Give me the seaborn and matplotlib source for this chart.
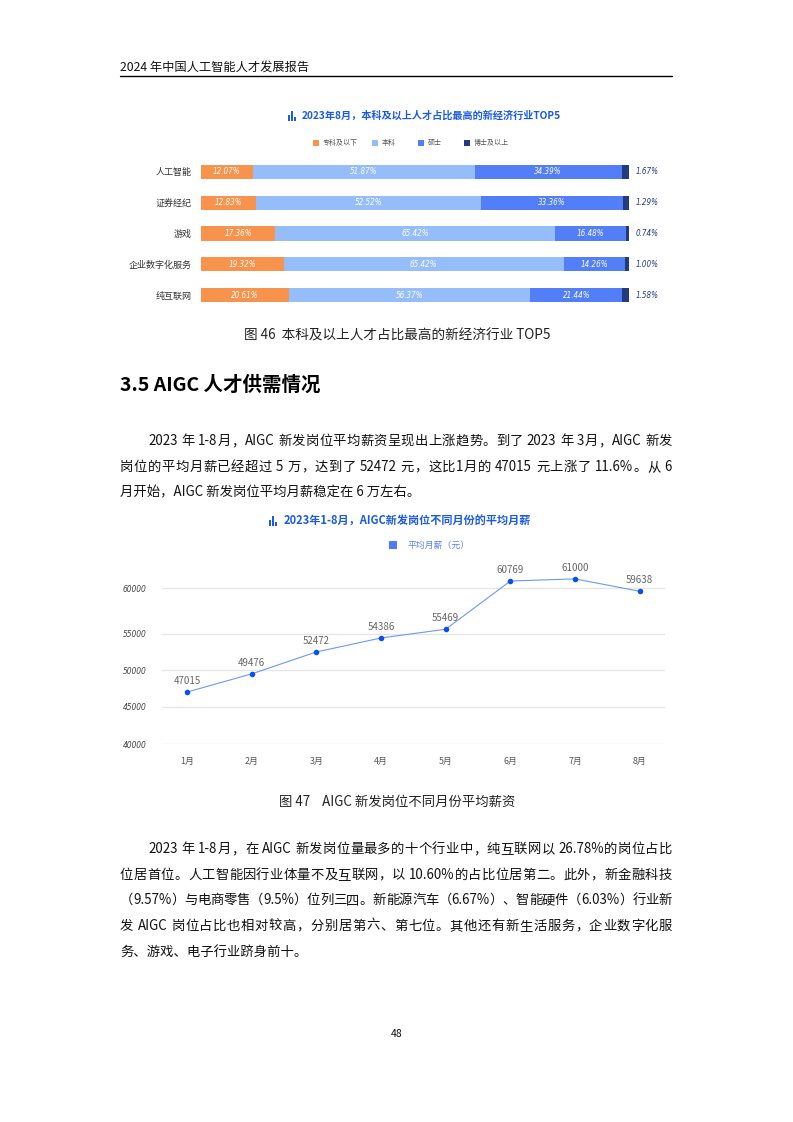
import re
import numpy as np
import pandas as pd
import matplotlib
matplotlib.use("Agg")
import matplotlib.pyplot as plt
from matplotlib.patches import Rectangle
from matplotlib.lines import Line2D
import seaborn as sns

# chart 1: education mix of the top 5 industries (%)
industries = ['人工智能', '证券经纪', '游戏', '企业数字化服务', '纯互联网']
edu_levels = ['专科及以下', '本科', '硕士', '博士及以上']
edu_colors = ['#F7934C', '#94BDFA', '#527EF8', '#233B7C']
share_junior = [12.07, 12.83, 17.36, 19.32, 20.61]
share_bachelor = [51.87, 52.52, 65.42, 65.42, 56.37]
share_master = [34.39, 33.36, 16.48, 14.26, 21.44]
share_phd = [1.67, 1.29, 0.74, 1.00, 1.58]

# chart 2: AIGC average monthly salary
months = ['1月', '2月', '3月', '4月', '5月', '6月', '7月', '8月']
salary = [47015, 49476, 52472, 54386, 55469, 60769, 61000, 59638]
salary_ticks = [40000, 45000, 50000, 55000, 60000]

header = '2024 年中国人工智能人才发展报告'
title1 = '2023年8月，本科及以上人才占比最高的新经济行业TOP5'
caption1 = '图 46  本科及以上人才占比最高的新经济行业 TOP5'
heading = '3.5 AIGC 人才供需情况'
para1 = ['2023 年 1-8月，AIGC 新发岗位平均薪资呈现出上涨趋势。到了 2023 年 3月，AIGC 新发',
         '岗位的平均月薪已经超过 5 万，达到了 52472 元，这比1月的 47015 元上涨了 11.6%。从 6',
         '月开始，AIGC 新发岗位平均月薪稳定在 6 万左右。']
title2 = '2023年1-8月，AIGC新发岗位不同月份的平均月薪'
legend2 = '平均月薪（元）'
caption2 = '图 47    AIGC 新发岗位不同月份平均薪资'
para2 = ['2023 年 1-8月，在 AIGC 新发岗位量最多的十个行业中，纯互联网以 26.78%的岗位占比',
         '位居首位。人工智能因行业体量不及互联网，以 10.60%的占比位居第二。此外，新金融科技',
         '（9.57%）与电商零售（9.5%）位列三四。新能源汽车（6.67%）、智能硬件（6.03%）行业新',
         '发 AIGC 岗位占比也相对较高，分别居第六、第七位。其他还有新生活服务，企业数字化服',
         '务、游戏、电子行业跻身前十。']

sns.set_theme(style='white')
plt.rcParams['font.family'] = ['Noto Sans CJK SC', 'DejaVu Sans']

W, H = 793, 1122
fig = plt.figure(figsize=(W / 100, H / 100), dpi=100)


def fx(x):
    return x / W


def fy(y):
    return 1 - y / H


def add_ax(l, t, r, b):
    return fig.add_axes([fx(l), fy(b), (r - l) / W, (b - t) / H])


def rect(x, y, w, h, color):
    fig.add_artist(Rectangle((fx(x), fy(y + h)), w / W, h / H,
                             transform=fig.transFigure, color=color, lw=0))


def icon(x, yc, color):
    # small bar-chart glyph in front of the chart titles
    for dx, h in [(0, 6), (3, 10), (6, 4)]:
        rect(x + dx, yc + 5 - h, 1.8, h, color)


num_font = dict(family='DejaVu Sans', style='italic', fontstretch='condensed')

# ---------- page header ----------
fig.text(fx(120), fy(68), header, fontsize=8.8, va='center', color='#111')
fig.add_artist(Line2D([fx(120), fx(672)], [fy(75.5), fy(75.5)], color='black', lw=1,
                      transform=fig.transFigure))

# ---------- chart 1 ----------
title_blue = '#1A5AE6'
icon(288, 116, title_blue)
fig.text(fx(302), fy(116), title1, fontsize=7.3, fontweight='bold', color=title_blue, va='center')

leg_x = [313, 372, 418, 464]
for lx, lab, col in zip(leg_x, edu_levels, edu_colors):
    rect(lx, 140, 6, 6, col)
    fig.text(fx(lx + 9.5), fy(143), lab, fontsize=5, color='#555', va='center')

ax1 = add_ax(201, 156.5, 629, 310.5)
shares = np.array([share_junior, share_bachelor, share_master, share_phd])
cum = np.cumsum(shares, axis=0)
for k in range(3, -1, -1):
    df1 = pd.DataFrame({'行业': industries, 'cum': cum[k]})
    sns.barplot(data=df1, x='cum', y='行业', color=edu_colors[k], saturation=1,
                width=0.46, linewidth=0, orient='h', ax=ax1)
ax1.set_xlim(0, 100)
ax1.set_ylim(4.5, -0.5)
ax1.set_xticks([])
ax1.set_xlabel('')
ax1.set_ylabel('')
ax1.tick_params(axis='y', length=0, pad=6.5, labelsize=6.5, labelcolor='#333')
for s in ax1.spines.values():
    s.set_visible(False)
for i in range(len(industries)):
    for k in range(3):
        ax1.text(cum[k][i] - shares[k][i] / 2, i, f'{shares[k][i]:.2f}%', ha='center',
                 va='center', color='white', fontsize=5.8, **num_font)
    ax1.text(101.6, i, f'{shares[3][i]:.2f}%', ha='left', va='center',
             color='#233B7C', fontsize=5.8, **num_font)

fig.text(fx(397), fy(336), caption1, fontsize=9.8, ha='center', va='center', color='#222')

# ---------- section text ----------
fig.text(fx(120), fy(385), heading, fontsize=14, fontweight='bold', va='center', color='#000')

renderer = fig.canvas.get_renderer()


def justify(line, x0, x1, y, size=9.6):
    tokens = re.findall(r'[A-Za-z0-9.%\-]+| |.', line)
    texts = [fig.text(0, fy(y), t, fontsize=size, va='center', color='#111') for t in tokens]
    widths = [t.get_window_extent(renderer).width for t in texts]
    gap = (x1 - x0 - sum(widths)) / max(len(texts) - 1, 1)
    x = x0
    for t, w in zip(texts, widths):
        t.set_x(fx(x))
        x += w + gap


def paragraph(lines, y0, step=25.6):
    for j, line in enumerate(lines):
        x0 = 148 if j == 0 else 120
        y = y0 + j * step
        if j < len(lines) - 1:
            justify(line, x0, 672, y)
        else:
            fig.text(fx(x0), fy(y), line, fontsize=9.6, va='center', color='#111')


paragraph(para1, 441)

# ---------- chart 2 ----------
icon(269, 521, title_blue)
fig.text(fx(284), fy(521), title2, fontsize=8, fontweight='bold', color=title_blue, va='center')
rect(389, 541, 8, 8, '#4F7CF6')
fig.text(fx(408), fy(545), legend2, fontsize=6.4, color='#5B80EE', va='center')

# the reference axis is not evenly spaced: 55000-60000 is wider than the other bands
knot_v = np.array([0, 40000, 45000, 50000, 55000, 60000, 100000])
knot_p = np.array([-296, 0, 37, 74, 110.5, 156, 520])


def fwd(v):
    return np.interp(v, knot_v, knot_p)


def inv(p):
    return np.interp(p, knot_p, knot_v)


ax2 = add_ax(162, 565, 665, 744)
df2 = pd.DataFrame({'月份': months, '平均月薪': salary})
sns.lineplot(data=df2, x='月份', y='平均月薪', color='#6C99F6', lw=0.8, sort=False, ax=ax2)
sns.scatterplot(data=df2, x='月份', y='平均月薪', color='#0A50F0', s=16, linewidth=0,
                zorder=3, ax=ax2)
ax2.set_yscale('function', functions=(fwd, inv))
ax2.set_ylim(40000, float(inv(179)))
ax2.set_xlim(-0.386, 7.39)
ax2.set_yticks(salary_ticks)
ax2.set_yticklabels([str(t) for t in salary_ticks])
ax2.yaxis.grid(True, color='#E6E6E6', lw=1)
ax2.xaxis.grid(False)
ax2.set_xlabel('')
ax2.set_ylabel('')
ax2.tick_params(axis='y', length=0, pad=11, labelsize=6, labelcolor='#444')
ax2.tick_params(axis='x', length=0, pad=9.5, labelsize=6.4, labelcolor='#555')
for lab in ax2.get_yticklabels():
    lab.set_fontfamily('DejaVu Sans')
    lab.set_fontstyle('italic')
    lab.set_fontstretch('condensed')
for s in ax2.spines.values():
    s.set_visible(False)
for i, v in enumerate(salary):
    ax2.annotate(str(v), (i, v), xytext=(0, 8), textcoords='offset points', ha='center',
                 va='center', fontsize=7, color='#666', annotation_clip=False)

fig.text(fx(397), fy(802), caption2, fontsize=9.6, ha='center', va='center', color='#222')

paragraph(para2, 849)

fig.text(fx(397), fy(1034), '48', fontsize=7.5, ha='center', va='center', color='#111')

fig.savefig('out.png', dpi=100)
